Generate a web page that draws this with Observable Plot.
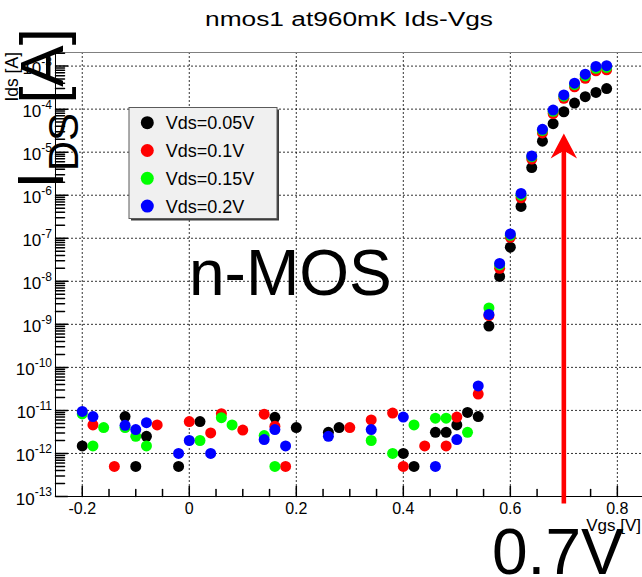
<!DOCTYPE html>
<html>
<head>
<meta charset="utf-8">
<script src="https://cdn.jsdelivr.net/npm/d3@7"></script>
<script src="https://cdn.jsdelivr.net/npm/@observablehq/plot@0.6"></script>
<style>
  html, body { margin: 0; padding: 0; background: #fff; }
  #chart svg { display: block; }
</style>
</head>
<body>
<div id="chart"></div>
<script>
// ---------- data ----------
const title = "nmos1 at960mK Ids-Vgs";
const xLabel = "Vgs [V]";
const yLabel = "Ids [A]";
const seriesNames = ["Vds=0.05V", "Vds=0.1V", "Vds=0.15V", "Vds=0.2V"];
const seriesColors = ["#000000", "#ff0000", "#00ff00", "#0000ff"];

const vgs = [-0.20, -0.18, -0.16, -0.14, -0.12, -0.10, -0.08, -0.06, -0.04, -0.02,
              0.00,  0.02,  0.04,  0.06,  0.08,  0.10,  0.12,  0.14,  0.16,  0.18,
              0.20,  0.22,  0.24,  0.26,  0.28,  0.30,  0.32,  0.34,  0.36,  0.38,
              0.40,  0.42,  0.44,  0.46,  0.48,  0.50,  0.52,  0.54,  0.56,  0.58,
              0.60,  0.62,  0.64,  0.66,  0.68,  0.70,  0.72,  0.74,  0.76,  0.78];

const ids005 = [1.5e-12, null, null, null, 7.2e-12, 5e-13, 2.5e-12, null, null, 5e-13,
                null, 5.5e-12, null, null, null, null, null, null, 6.9e-12, null,
                4e-12, null, null, 3.1e-12, 4e-12, null, null, null, null, null,
                1e-12, 5e-13, null, 3.1e-12, 3.1e-12, 4.6e-12, 9e-12, 7.2e-12, 9.1e-10, 1.3e-8,
                6.2e-8, 5.5e-7, 4.4e-6, 1.8e-5, 4.6e-5, 8.7e-5, 1.38e-4, 1.95e-4, 2.45e-4, 3.0e-4];

const ids01  = [null, 4.6e-12, null, 5e-13, null, null, null, 4.6e-12, null, null,
                5.5e-12, null, 3.0e-12, 8.4e-12, null, 3.5e-12, null, 8.2e-12, 4.3e-12, 5e-13,
                null, null, null, null, null, 4e-12, null, 6e-12, null, 8.7e-12,
                5e-13, null, 1.5e-12, null, 1.5e-12, 7e-12, null, 2.4e-11, 1.6e-9, 2.0e-8,
                1.05e-7, 8.7e-7, 6.9e-6, 2.8e-5, 7.9e-5, 1.78e-4, 3.3e-4, 5.2e-4, 7.8e-4, 8.2e-4];

const ids015 = [8.3e-12, 1.5e-12, 4.0e-12, null, 4e-12, 2.5e-12, 1.5e-12, null, null, null,
                null, 2.0e-12, null, 6.8e-12, 4.6e-12, null, null, 2.6e-12, 5e-13, null,
                null, null, null, null, null, null, null, 2e-12, null, 1e-12,
                null, 4.6e-12, null, 6.6e-12, 6.6e-12, null, 3.1e-12, null, 2.4e-9, 2.4e-8,
                1.17e-7, 1.0e-6, 7.8e-6, 3.2e-5, 8.9e-5, 2.0e-4, 3.7e-4, 5.9e-4, 8.9e-4, 9.3e-4];

const ids02  = [9.5e-12, 7.2e-12, null, null, 4.5e-12, 3.6e-12, 5.2e-12, null, null, 1.0e-12,
                2.0e-12, null, 1.0e-12, null, null, null, null, 2.1e-12, 3.6e-12, 1.5e-12,
                null, null, null, 2.5e-12, null, null, null, 3.6e-12, null, null,
                7e-12, null, null, 5e-13, null, 2.1e-12, null, 3.7e-11, 1.7e-9, 2.6e-8,
                1.26e-7, 1.1e-6, 8.2e-6, 3.4e-5, 9.5e-5, 2.14e-4, 4.0e-4, 6.5e-4, 9.8e-4, 1.02e-3];

const xTicks = [-0.2, 0, 0.2, 0.4, 0.6, 0.8];
const xMinorTicks = [-0.15, -0.1, -0.05, 0.05, 0.1, 0.15, 0.25, 0.3, 0.35, 0.45, 0.5, 0.55, 0.65, 0.7, 0.75];
const yDecades = [1e-13, 1e-12, 1e-11, 1e-10, 1e-9, 1e-8, 1e-7, 1e-6, 1e-5, 1e-4, 1e-3];
const xDomain = [-0.25, 0.847];
const yDomain = [1e-13, 2.07e-3];

// annotation values
const arrowVgs = [0.7];
const arrowIds = [6.9e-14, 2.7e-5];   // shaft base (below axis), tip
const annotationNmos = "n-MOS";
const annotationVth = "0.7V";

// ---------- layout ----------
const W = 642, H = 577;
const mL = 55, mR = 0, mT = 52, mB = 81;
const FONT = "'Liberation Sans', Arial, Helvetica, sans-serif";

const seriesArrays = [ids005, ids01, ids015, ids02];
const table = [];
seriesArrays.forEach((arr, s) => arr.forEach((v, i) => {
  if (v != null) table.push({vgs: vgs[i], ids: v, s});
}));

const yMinor = [];
yDecades.forEach(d => { for (let k = 2; k <= 9; k++) { const v = k * d; if (v <= yDomain[1]) yMinor.push(v); } });

const ys = Plot.scale({y: {type: "log", domain: yDomain, range: [H - mB, mT]}});
const arrowLen = ys.apply(arrowIds[0]) - ys.apply(arrowIds[1]);

const tickShape = {draw(ctx, l) { ctx.moveTo(0, 0); ctx.lineTo(0, -l); }};
const arrowShape = {draw(ctx, l) {
  const w = 2.3, h = 25, hw = 13.2, n = 6.6;
  ctx.moveTo(-w, 0); ctx.lineTo(-w, -(l - h + n)); ctx.lineTo(-hw, -(l - h));
  ctx.lineTo(0, -l); ctx.lineTo(hw, -(l - h)); ctx.lineTo(w, -(l - h + n));
  ctx.lineTo(w, 0); ctx.closePath();
}};

const grid = {stroke: "#000", strokeDasharray: "2,2", strokeOpacity: 0.8, strokeWidth: 1};

const plot = Plot.plot({
  width: W, height: H,
  marginLeft: mL, marginRight: mR, marginTop: mT, marginBottom: mB,
  style: {fontFamily: FONT, fontSize: "16px", color: "#000", background: "#fff", overflow: "visible"},
  x: {domain: xDomain, ticks: xTicks, tickSize: 0, tickPadding: 6, tickFormat: d => String(d), label: null},
  y: {type: "log", domain: yDomain, axis: null},
  marks: [
    Plot.ruleX(xTicks, grid),
    Plot.ruleY(yDecades.slice(1), grid),
    Plot.ruleY([yDomain[1]], {stroke: "#808080", strokeWidth: 1}),
    Plot.ruleX([xDomain[0]], {stroke: "#000", strokeWidth: 1}),
    Plot.ruleY([yDomain[0]], {stroke: "#000", strokeWidth: 1}),
    Plot.vector(yDecades, {y: d => d, frameAnchor: "left", rotate: 90, length: 12, anchor: "start", shape: tickShape, stroke: "#000"}),
    Plot.vector(yMinor, {y: d => d, frameAnchor: "left", rotate: 90, length: 9, anchor: "start", shape: tickShape, stroke: "#000"}),
    Plot.vector(xTicks, {x: d => d, frameAnchor: "bottom", rotate: 0, length: 10, anchor: "start", shape: tickShape, stroke: "#000"}),
    Plot.vector(xMinorTicks, {x: d => d, frameAnchor: "bottom", rotate: 0, length: 7, anchor: "start", shape: tickShape, stroke: "#000"}),
    ...seriesColors.map((c, s) => Plot.dot(table.filter(d => d.s === s), {x: "vgs", y: "ids", r: 5.5, fill: c, stroke: "none"})),
    Plot.vector([{vgs: arrowVgs[0], ids: arrowIds[1]}], {x: "vgs", y: "ids", length: arrowLen, anchor: "end", rotate: 0, shape: arrowShape, fill: "#ff0000", stroke: "none"})
  ]
});

document.getElementById("chart").appendChild(plot);

// ---------- texts / legend ----------
const svg = d3.select(plot);
const y = plot.scale("y");

// y tick labels 10^n
const gy = svg.append("g").attr("font-family", FONT).attr("fill", "#000");
yDecades.forEach(v => {
  const exp = Math.round(Math.log10(v));
  const t = gy.append("text").attr("x", mL - 3).attr("y", y.apply(v) + 8.5)
    .attr("text-anchor", "end").attr("font-size", 17);
  t.append("tspan").text("10");
  t.append("tspan").attr("font-size", 12).attr("dy", -8.5).text(String(exp));
});

// title
svg.append("text").attr("x", 349).attr("y", 26).attr("text-anchor", "middle")
  .attr("font-family", FONT).attr("font-size", 20).attr("fill", "#000")
  .attr("textLength", 288).attr("lengthAdjust", "spacingAndGlyphs").text(title);

// axis titles
svg.append("text").attr("transform", `translate(18,${mT}) rotate(-90)`).attr("text-anchor", "end")
  .attr("font-family", FONT).attr("font-size", 17.5).attr("fill", "#000").text(yLabel);
svg.append("text").attr("x", 641).attr("y", 531).attr("text-anchor", "end")
  .attr("font-family", FONT).attr("font-size", 17).attr("fill", "#000").text(xLabel);

// legend
const lg = svg.append("g").attr("font-family", FONT).attr("text-anchor", "start");
lg.append("rect").attr("x", 131).attr("y", 109.5).attr("width", 148).attr("height", 111).attr("fill", "#3c3c3c");
lg.append("rect").attr("x", 129).attr("y", 107.5).attr("width", 148).attr("height", 111)
  .attr("fill", "#f0f0f0").attr("stroke", "#5a5a5a").attr("stroke-width", 1);
seriesNames.forEach((name, i) => {
  const cy = 122.7 + i * 27.8;
  lg.append("circle").attr("cx", 147.3).attr("cy", cy).attr("r", 6.5).attr("fill", seriesColors[i]);
  lg.append("text").attr("x", 165.7).attr("y", cy + 6.4).attr("text-anchor", "start")
    .attr("font-size", 18).attr("fill", "#000").text(name);
});

// big annotations
svg.append("text").attr("x", 189).attr("y", 295).attr("text-anchor", "start").attr("font-family", FONT)
  .attr("font-size", 64).attr("fill", "#000").text(annotationNmos);
svg.append("text").attr("x", 492).attr("y", 574).attr("text-anchor", "start").attr("font-family", FONT)
  .attr("font-size", 64).attr("fill", "#000").text(annotationVth);

const big = svg.append("text").attr("transform", "translate(63,189) rotate(-90)")
  .attr("text-anchor", "start").attr("font-family", FONT).attr("fill", "#000");
big.append("tspan").attr("font-size", 64).text("I");
big.append("tspan").attr("font-size", 42).attr("dy", 15).text("DS");
big.append("tspan").attr("font-size", 62).attr("dy", -15).attr("dx", 9).text("[A]");
</script>
</body>
</html>
